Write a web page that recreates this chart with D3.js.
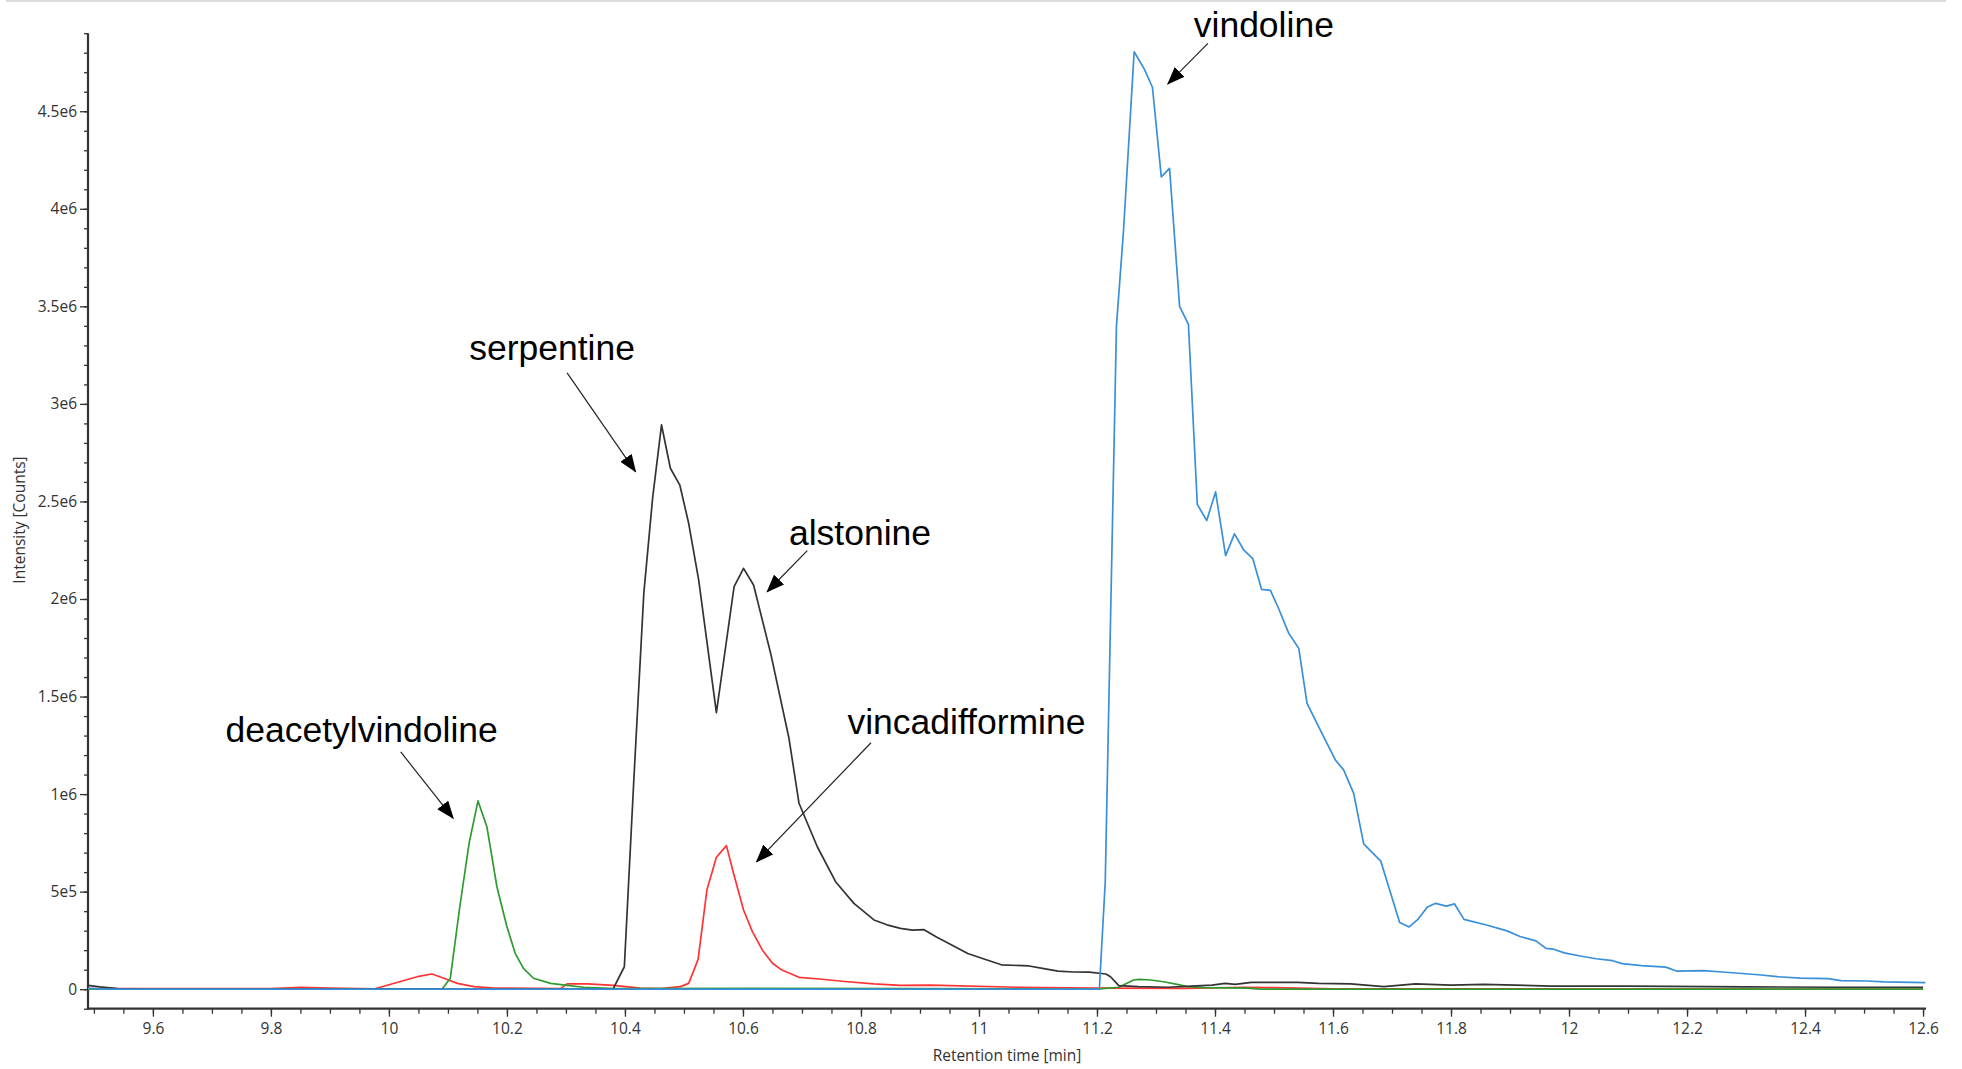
<!DOCTYPE html>
<html>
<head>
<meta charset="utf-8">
<script src="https://cdn.jsdelivr.net/npm/d3@7"></script>
<style>
  html, body { margin: 0; padding: 0; background: #fff; }
  svg { display: block; }
</style>
</head>
<body>
<svg id="chart" width="1962" height="1069"></svg>
<script>
// Extracted ion chromatograms, retention time in minutes, intensity in millions of counts.
const serpentineTime = [9.49, 9.51, 9.54, 9.6, 10.0, 10.38, 10.399, 10.415, 10.432, 10.447, 10.462, 10.477, 10.493, 10.508, 10.525, 10.555, 10.585, 10.601, 10.618, 10.647, 10.678, 10.695, 10.726, 10.757, 10.788, 10.822, 10.844, 10.867, 10.887, 10.907, 10.928, 10.953, 10.981, 11.006, 11.038, 11.085, 11.11, 11.134, 11.16, 11.187, 11.215, 11.223, 11.237, 11.27, 11.32, 11.36, 11.395, 11.417, 11.434, 11.462, 11.54, 11.575, 11.63, 11.686, 11.74, 11.8, 11.855, 11.97, 12.1, 12.3, 12.45, 12.6];
const serpentineMCounts = [0.02, 0.012, 0.003, 0.0, 0.0, 0.002, 0.115, 1.07, 2.03, 2.52, 2.892, 2.67, 2.584, 2.388, 2.097, 1.418, 2.063, 2.157, 2.072, 1.721, 1.286, 0.953, 0.73, 0.551, 0.44, 0.355, 0.33, 0.312, 0.303, 0.305, 0.267, 0.228, 0.183, 0.157, 0.125, 0.119, 0.105, 0.093, 0.088, 0.087, 0.078, 0.064, 0.018, 0.013, 0.01, 0.016, 0.021, 0.03, 0.025, 0.035, 0.035, 0.03, 0.027, 0.013, 0.027, 0.021, 0.025, 0.016, 0.016, 0.012, 0.01, 0.01];

const vincaTime = [9.49, 9.8, 9.85, 9.9, 9.976, 10.048, 10.073, 10.093, 10.116, 10.144, 10.178, 10.291, 10.302, 10.336, 10.381, 10.426, 10.46, 10.494, 10.508, 10.524, 10.539, 10.555, 10.572, 10.584, 10.601, 10.616, 10.633, 10.65, 10.666, 10.695, 10.734, 10.777, 10.822, 10.867, 10.918, 11.065, 11.2, 11.35, 11.45, 11.5, 11.6, 12.6];
const vincaMCounts = [0.003, 0.003, 0.01, 0.006, 0.002, 0.064, 0.078, 0.056, 0.03, 0.013, 0.006, 0.003, 0.027, 0.027, 0.02, 0.005, 0.003, 0.013, 0.03, 0.153, 0.51, 0.676, 0.736, 0.594, 0.406, 0.295, 0.2, 0.133, 0.098, 0.061, 0.051, 0.038, 0.027, 0.02, 0.021, 0.01, 0.005, 0.004, 0.01, 0.008, 0.002, 0.0];

const deacetylTime = [9.49, 10.09, 10.104, 10.12, 10.136, 10.151, 10.166, 10.183, 10.2, 10.214, 10.228, 10.245, 10.274, 10.302, 10.33, 10.384, 10.6, 10.9, 11.2, 11.237, 11.262, 11.271, 11.291, 11.313, 11.336, 11.353, 11.381, 11.455, 11.477, 12.6];
const deacetylMCounts = [0.0, 0.0, 0.056, 0.42, 0.75, 0.965, 0.833, 0.525, 0.32, 0.184, 0.107, 0.056, 0.03, 0.02, 0.01, 0.003, 0.004, 0.003, 0.0, 0.01, 0.047, 0.05, 0.047, 0.038, 0.025, 0.013, 0.008, 0.005, 0.0, 0.0];

const vindolineTime = [9.49, 9.52, 11.204, 11.214, 11.233, 11.245, 11.263, 11.28, 11.294, 11.309, 11.323, 11.34, 11.355, 11.37, 11.386, 11.401, 11.418, 11.433, 11.449, 11.464, 11.479, 11.494, 11.508, 11.525, 11.542, 11.556, 11.584, 11.604, 11.618, 11.635, 11.652, 11.681, 11.713, 11.729, 11.744, 11.76, 11.774, 11.792, 11.806, 11.822, 11.86, 11.895, 11.917, 11.944, 11.961, 11.974, 11.992, 12.019, 12.046, 12.074, 12.09, 12.123, 12.164, 12.182, 12.228, 12.26, 12.321, 12.353, 12.392, 12.439, 12.461, 12.505, 12.534, 12.604];
const vindolineMCounts = [0.004, 0.0, 0.0, 0.55, 3.40, 3.89, 4.805, 4.717, 4.623, 4.164, 4.207, 3.50, 3.407, 2.485, 2.402, 2.549, 2.222, 2.334, 2.25, 2.207, 2.049, 2.044, 1.95, 1.824, 1.747, 1.465, 1.294, 1.175, 1.124, 1.004, 0.745, 0.656, 0.342, 0.319, 0.358, 0.421, 0.44, 0.426, 0.437, 0.358, 0.329, 0.299, 0.27, 0.248, 0.209, 0.205, 0.186, 0.17, 0.156, 0.146, 0.131, 0.121, 0.113, 0.093, 0.095, 0.088, 0.074, 0.064, 0.057, 0.054, 0.044, 0.042, 0.038, 0.034];

// Axis ticks
const xMajorTicks = [9.6, 9.8, 10, 10.2, 10.4, 10.6, 10.8, 11, 11.2, 11.4, 11.6, 11.8, 12, 12.2, 12.4, 12.6];
const xTickLabels = ["9.6", "9.8", "10", "10.2", "10.4", "10.6", "10.8", "11", "11.2", "11.4", "11.6", "11.8", "12", "12.2", "12.4", "12.6"];
const yMajorTicks = [0, 0.5e6, 1e6, 1.5e6, 2e6, 2.5e6, 3e6, 3.5e6, 4e6, 4.5e6];
const yTickLabels = ["0", "5e5", "1e6", "1.5e6", "2e6", "2.5e6", "3e6", "3.5e6", "4e6", "4.5e6"];

// Peak labels: text, text anchor point (min, counts), arrow tail and arrow head (min, counts)
const peakNames = ["vindoline", "serpentine", "alstonine", "vincadifformine", "deacetylvindoline"];
const peakTextAt = [[11.364, 4.879e6], [10.136, 3.225e6], [10.678, 2.277e6], [10.777, 1.308e6], [9.723, 1.267e6]];
const peakArrowFrom = [[11.388, 4.848e6], [10.302, 3.159e6], [10.709, 2.248e6], [10.817, 1.263e6], [10.02, 1.216e6]];
const peakArrowTo = [[11.32, 4.64e6], [10.418, 2.652e6], [10.641, 2.037e6], [10.623, 0.653e6], [10.109, 0.876e6]];

const toSeries = (ts, vs) => ts.map((t, i) => ({ t, v: vs[i] * 1e6 }));
const traces = [
  { name: "vincadifformine", color: "#ff3333", data: toSeries(vincaTime, vincaMCounts) },
  { name: "deacetylvindoline", color: "#2f9a2f", data: toSeries(deacetylTime, deacetylMCounts) },
  { name: "serpentine/alstonine", color: "#333333", data: toSeries(serpentineTime, serpentineMCounts) },
  { name: "vindoline", color: "#3a8fd9", data: toSeries(vindolineTime, vindolineMCounts) }
];

const svg = d3.select("#chart");
const plotLeft = 88, plotRight = 1926, plotTop = 33.2, plotBottom = 1008.7;

const x = d3.scaleLinear().domain([9.49, 12.605]).range([plotLeft, plotRight]);
const y = d3.scaleLinear().domain([-1e5, 4.9e6]).range([plotBottom, plotTop]);

// thin frame line along the top of the window
svg.append("line")
  .attr("x1", 6).attr("x2", 1946).attr("y1", 1).attr("y2", 1)
  .attr("stroke", "#dcdcdc").attr("stroke-width", 2);

const axisColor = "#333";
const tickFont = "'Open Sans', 'DejaVu Sans', sans-serif";

// Y axis: minor ticks every 1e5, labelled majors every 5e5
const yMinor = d3.range(-1e5, 4.9e6 + 1, 1e5);
const yAxisMinor = d3.axisLeft(y).tickValues(yMinor).tickSize(4).tickFormat("");
const gyMinor = svg.append("g").attr("transform", `translate(${plotLeft},0)`).call(yAxisMinor);
gyMinor.select(".domain").remove();
gyMinor.selectAll("line").attr("stroke", axisColor).attr("stroke-width", 1.3);

const yAxis = d3.axisLeft(y).tickValues(yMajorTicks).tickSize(8).tickPadding(3)
  .tickFormat((d, i) => yTickLabels[i]);
const gy = svg.append("g").attr("transform", `translate(${plotLeft},0)`).call(yAxis);
gy.select(".domain").remove();
gy.selectAll("line").attr("stroke", axisColor).attr("stroke-width", 1.3);
gy.selectAll("text").attr("font-family", tickFont).attr("font-size", 15.5).attr("fill", "#333");

// X axis: minor ticks every 0.05 min, labelled majors every 0.2 min
const xMinor = d3.range(0, 63).map(i => 9.5 + i * 0.05).filter(v => v <= 12.6001);
const xAxisMinor = d3.axisBottom(x).tickValues(xMinor).tickSize(5).tickFormat("");
const gxMinor = svg.append("g").attr("transform", `translate(0,${plotBottom})`).call(xAxisMinor);
gxMinor.select(".domain").remove();
gxMinor.selectAll("line").attr("stroke", axisColor).attr("stroke-width", 1.3);

const xAxis = d3.axisBottom(x).tickValues(xMajorTicks).tickSize(8).tickPadding(6)
  .tickFormat((d, i) => xTickLabels[i]);
const gx = svg.append("g").attr("transform", `translate(0,${plotBottom})`).call(xAxis);
gx.select(".domain").remove();
gx.selectAll("line").attr("stroke", axisColor).attr("stroke-width", 1.3);
gx.selectAll("text").attr("font-family", tickFont).attr("font-size", 15.5).attr("fill", "#333");

// axis lines
svg.append("line").attr("x1", plotLeft).attr("x2", plotLeft).attr("y1", plotTop).attr("y2", plotBottom + 1)
  .attr("stroke", axisColor).attr("stroke-width", 2.2);
svg.append("line").attr("x1", plotLeft - 1).attr("x2", plotRight).attr("y1", plotBottom).attr("y2", plotBottom)
  .attr("stroke", axisColor).attr("stroke-width", 2.2);

// axis titles
svg.append("text")
  .attr("transform", "translate(25,520) rotate(-90)")
  .attr("text-anchor", "middle")
  .attr("font-family", tickFont).attr("font-size", 15.5).attr("fill", "#333")
  .text("Intensity [Counts]");
svg.append("text")
  .attr("x", (plotLeft + plotRight) / 2).attr("y", 1061)
  .attr("text-anchor", "middle")
  .attr("font-family", tickFont).attr("font-size", 15.5).attr("fill", "#333")
  .text("Retention time [min]");

// chromatogram traces
const line = d3.line().x(d => x(d.t)).y(d => y(d.v));
svg.append("g").selectAll("path").data(traces).join("path")
  .attr("d", d => line(d.data))
  .attr("fill", "none")
  .attr("stroke", d => d.color)
  .attr("stroke-width", 1.7)
  .attr("stroke-linejoin", "round");

// peak annotations with arrows
svg.append("defs").append("marker")
  .attr("id", "arrowhead")
  .attr("markerUnits", "userSpaceOnUse")
  .attr("viewBox", "0 0 18 14")
  .attr("refX", 17).attr("refY", 7)
  .attr("markerWidth", 18).attr("markerHeight", 14)
  .attr("orient", "auto")
  .append("path").attr("d", "M0,0 L18,7 L0,14 Z").attr("fill", "#000");

const notes = peakNames.map((name, i) => ({
  name, text: peakTextAt[i], from: peakArrowFrom[i], to: peakArrowTo[i]
}));
const ng = svg.append("g");
ng.selectAll("line").data(notes).join("line")
  .attr("x1", d => x(d.from[0])).attr("y1", d => y(d.from[1]))
  .attr("x2", d => x(d.to[0])).attr("y2", d => y(d.to[1]))
  .attr("stroke", "#222").attr("stroke-width", 1.2)
  .attr("marker-end", "url(#arrowhead)");
ng.selectAll("text").data(notes).join("text")
  .attr("x", d => x(d.text[0])).attr("y", d => y(d.text[1]))
  .attr("font-family", "'Liberation Sans', Arial, sans-serif")
  .attr("font-size", 35.5)
  .attr("fill", "#000")
  .text(d => d.name);
</script>
</body>
</html>
